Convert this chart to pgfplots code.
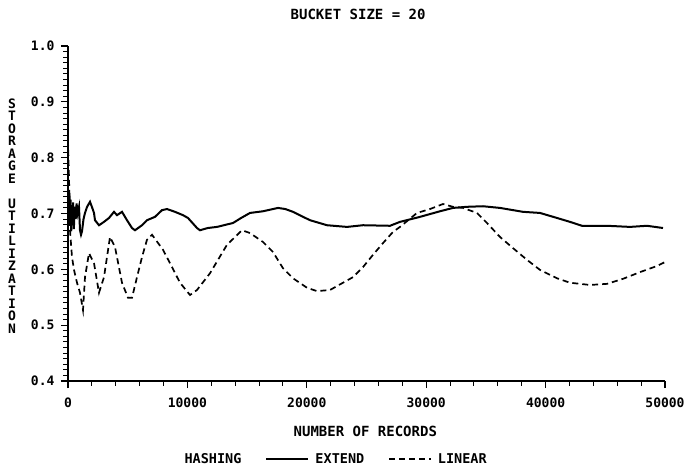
\documentclass[border=0pt]{standalone}
\usepackage{fontspec}
\setmainfont{DejaVu Sans Mono}[BoldFont={DejaVu Sans Mono Bold}]
\usepackage{pgfplots}
\pgfplotsset{compat=1.18}

\pgfplotstableread{
x y
0 0.700
40 0.722
80 0.680
120 0.737
170 0.690
220 0.725
270 0.668
320 0.715
370 0.680
430 0.720
490 0.672
560 0.712
640 0.690
720 0.718
800 0.700
921 0.712
1005 0.670
1090 0.662
1173 0.668
1300 0.690
1424 0.701
1600 0.712
1843 0.721
2000 0.712
2178 0.701
2261 0.688
2596 0.679
3015 0.685
3434 0.692
3853 0.703
4104 0.697
4523 0.703
4941 0.688
5360 0.674
5611 0.670
6198 0.679
6616 0.688
7286 0.694
7873 0.706
8291 0.708
8961 0.703
9631 0.697
10050 0.692
10804 0.674
11055 0.670
11700 0.674
12479 0.676
13819 0.683
14500 0.692
15243 0.701
16331 0.704
17588 0.710
18200 0.708
18844 0.703
19500 0.696
20268 0.688
21691 0.679
23366 0.676
24706 0.679
26968 0.678
27805 0.685
29480 0.694
31155 0.704
32244 0.710
33416 0.712
34756 0.713
36180 0.710
38106 0.703
39530 0.701
40954 0.692
42043 0.685
43048 0.678
45141 0.678
47067 0.676
48491 0.678
49832 0.674
}\extend

\pgfplotstableread{
x y
0 0.832
100 0.750
168 0.670
335 0.622
503 0.599
754 0.576
1005 0.558
1256 0.527
1424 0.586
1759 0.629
2178 0.611
2596 0.558
3015 0.586
3518 0.658
3936 0.640
4523 0.576
5025 0.549
5360 0.549
5779 0.586
6198 0.622
6616 0.653
7035 0.662
7956 0.635
8543 0.611
9380 0.576
10218 0.554
10804 0.563
11893 0.593
13316 0.644
14573 0.670
15243 0.665
16331 0.649
17169 0.631
18006 0.602
18844 0.584
20016 0.567
20854 0.561
21943 0.563
23031 0.576
23869 0.586
24706 0.604
25544 0.626
26381 0.647
27219 0.667
27805 0.676
29229 0.701
30318 0.708
31406 0.717
32244 0.712
33081 0.710
34254 0.701
35091 0.683
36180 0.658
37269 0.638
38441 0.617
39530 0.599
40954 0.584
42043 0.576
43718 0.572
45141 0.574
46481 0.583
47905 0.595
49329 0.606
50000 0.613
}\linear

\begin{document}
\begin{tikzpicture}
\begin{axis}[
  scale only axis,
  width=597pt, height=335pt,
  xmin=0, xmax=50000, ymin=0.4, ymax=1.0,
  clip=false,
  axis x line*=bottom, axis y line*=left,
  axis line style={line width=1.5pt},
  tick align=outside,
  major tick length=4.5pt,
  tick style={line width=1pt, black},
  scaled x ticks=false, scaled y ticks=false,
  % short ticks: every 2000 records and every 0.01
  xtick={0,2000,...,50000}, xticklabels={},
  ytick={0.40,0.41,...,1.0}, yticklabels={},
  % long, labelled ticks
  extra x ticks={0,10000,20000,30000,40000,50000},
  extra x tick labels={0,10000,20000,30000,40000,50000},
  extra y ticks={0.4,0.5,0.6,0.7,0.8,0.9,1.0},
  extra y tick labels={0.4,0.5,0.6,0.7,0.8,0.9,1.0},
  extra x tick style={major tick length=7pt, tick style={line width=1.3pt, black}},
  extra y tick style={major tick length=7pt, tick style={line width=1.3pt, black}},
  xticklabel style={yshift=-6pt, font=\fontsize{13}{13}\selectfont\bfseries},
  yticklabel style={xshift=-3pt, font=\fontsize{13}{13}\selectfont\bfseries},
  legend columns=-1,
  legend style={draw=none, fill=none, at={(rel axis cs:0.445,-0.233)}, anchor=center,
    font=\fontsize{13.5}{13.5}\selectfont\bfseries,
    /tikz/every even column/.append style={column sep=22pt},
    /tikz/every odd column/.append style={column sep=4pt}},
  legend image code/.code={\draw[#1] (0pt,0pt) -- (42pt,0pt);},
]
\addlegendimage{empty legend}
\addlegendentry{HASHING}
\addplot[black, line width=2pt] table {\extend};
\addlegendentry{EXTEND}
\addplot[black, line width=1.7pt, dash pattern=on 6pt off 4pt] table {\linear};
\addlegendentry{LINEAR}

\node[font=\fontsize{14}{14}\selectfont\bfseries] at (axis cs:24300,1.057) {BUCKET SIZE = 20};
\node[font=\fontsize{14}{14}\selectfont\bfseries] at (axis cs:24900,0.309) {NUMBER OF RECORDS};
\node[align=center, inner sep=0pt, font=\fontsize{13}{12.5}\selectfont\bfseries]
  at (axis cs:-4690,0.696) {S\\T\\O\\R\\A\\G\\E\\[12.5pt]U\\T\\I\\L\\I\\Z\\A\\T\\I\\O\\N};
\coordinate (bbsw) at (axis cs:-5695,0.2370);
\coordinate (bbne) at (axis cs:51926,1.0824);
\end{axis}
\pgfresetboundingbox
\path[use as bounding box] (bbsw) rectangle (bbne);
\end{tikzpicture}
\end{document}
